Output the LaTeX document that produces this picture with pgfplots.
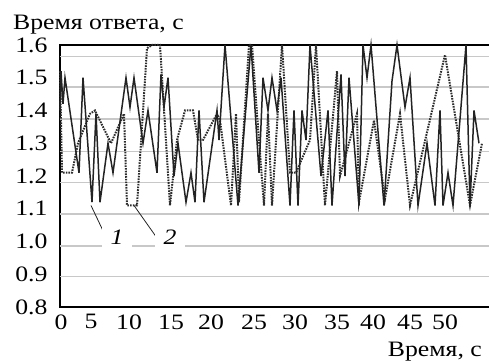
\documentclass[border=0pt]{standalone}
\usepackage{fontspec}
\setmainfont{Liberation Serif}[FakeStretch=1.17]
\usepackage{pgfplots}
\pgfplotsset{compat=1.18}
\definecolor{lineS}{RGB}{35,35,35}
\definecolor{lineD}{RGB}{45,45,45}
\definecolor{gridc}{RGB}{200,200,200}
\begin{document}
\fontsize{22}{25}\selectfont
\begin{tikzpicture}
\useasboundingbox (-60pt,-56pt) rectangle (429pt,307pt);
\begin{axis}[
  at={(0,0)}, anchor=south west, scale only axis,
  width=432pt, height=262pt,
  xmin=0, xmax=432, ymin=0.8, ymax=1.6,
  axis line style={line width=1.2pt, black},
  clip=false,
  ytick={0.8,0.9,1.0,1.1,1.2,1.3,1.4,1.5,1.6},
  yticklabel style={/pgf/number format/fixed, /pgf/number format/precision=1, /pgf/number format/fixed zerofill, anchor=east, xshift=-5pt},
  /pgf/number format/assume math mode=true,
  xtick={1,31,69,111,151,194,235,277,313,350,385},
  xticklabels={0,5,10,15,20,25,30,35,40,45,50},
  ticklabel style={font=\fontsize{22}{25}\selectfont},
  major tick length=0pt,
  extra y ticks={0.892,0.986,1.084,1.179,1.276,1.374,1.472,1.566},
  extra y tick labels={},
  extra y tick style={grid=major, major grid style={draw=gridc, line width=1.2pt}, major tick length=0pt},
]
\addplot[lineD, line width=2pt, dash pattern=on 1.6pt off 1.1pt] coordinates {
(0,1.52)(2,1.21)(12,1.21)(18,1.30)(30,1.39)(35,1.40)(51,1.30)(64,1.39)(67,1.11)(77,1.11)
(87,1.59)(92,1.60)(100,1.60)(110,1.11)(117,1.31)(125,1.40)(133,1.40)(138,1.31)(143,1.31)
(157,1.39)(160,1.37)(171,1.11)(176,1.39)(179,1.12)(189,1.60)(192,1.60)(197,1.39)(204,1.11)
(208,1.39)(212,1.11)(222,1.60)(230,1.21)(236,1.21)(250,1.31)(256,1.60)(265,1.11)(277,1.52)
(280,1.20)(297,1.39)(299,1.12)(314,1.37)(325,1.13)(340,1.39)(350,1.11)(385,1.57)(410,1.11)(422,1.30)
};
\addplot[lineS, line width=1.5pt] coordinates {
(0,1.40)(1,1.52)(3,1.42)(5,1.50)(19,1.21)(23,1.50)(32,1.12)(36,1.39)(40,1.12)(48,1.30)
(53,1.21)(66,1.50)(70,1.41)(74,1.50)(83,1.30)(88,1.40)(97,1.21)(101,1.51)(104,1.41)(108,1.50)
(114,1.20)(118,1.30)(126,1.12)(131,1.21)(135,1.12)(139,1.40)(144,1.12)(157,1.40)(159,1.31)
(165,1.60)(178,1.11)(191,1.60)(199,1.21)(203,1.50)(208,1.40)(212,1.50)(217,1.40)(221,1.50)
(230,1.11)(234,1.40)(238,1.11)(242,1.40)(246,1.31)(250,1.60)(261,1.20)(268,1.40)(272,1.11)
(281,1.51)(285,1.20)(289,1.50)(299,1.11)(303,1.60)(307,1.50)(311,1.60)(324,1.11)(332,1.49)
(337,1.60)(345,1.41)(350,1.50)(358,1.11)(367,1.30)(375,1.11)(380,1.40)(383,1.11)(388,1.21)
(393,1.11)(406,1.60)(410,1.11)(414,1.40)(419,1.30)
};
\draw[lineS, line width=0.8pt] (axis cs:31,1.11) -- (axis cs:45,1.02);
\draw[lineS, line width=0.8pt] (axis cs:74,1.11) -- (axis cs:96,1.015);
\node[fill=white, inner sep=0pt, minimum width=30pt, minimum height=28pt, font=\itshape] at (axis cs:57,1.014) {1};
\node[fill=white, inner sep=0pt, minimum width=30pt, minimum height=28pt, font=\itshape] at (axis cs:110,1.014) {2};
\end{axis}
\node[anchor=base west, inner sep=0pt] at (-47pt,277pt) {Время ответа, с};
\node[anchor=base east, inner sep=0pt] at (422pt,-50pt) {Время, с};
\end{tikzpicture}
\end{document}
